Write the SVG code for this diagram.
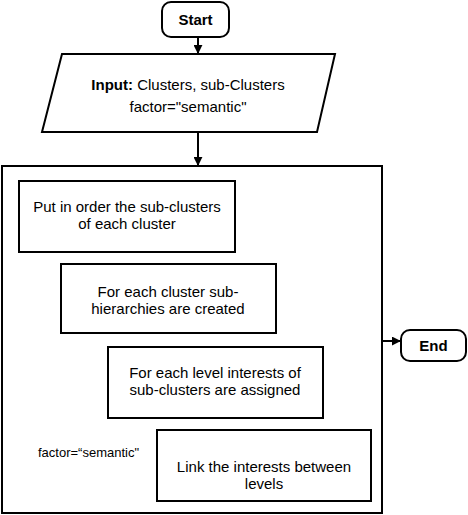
<svg xmlns="http://www.w3.org/2000/svg" width="468" height="515" viewBox="0 0 468 515">
<style>
.s{fill:#fff;stroke:#000;stroke-width:2}
.t{font-family:"Liberation Sans",Arial,sans-serif;font-size:15px;fill:#000;text-anchor:middle}
.b{font-weight:bold;font-size:15px}
.l{font-size:13px;text-anchor:start}
.c{fill:none;stroke:#000;stroke-width:2}
</style>
<defs>
<marker id="a" viewBox="0 0 10 10" refX="9" refY="5" markerWidth="4.5" markerHeight="4.5" orient="auto" markerUnits="strokeWidth">
<path d="M0,0L10,5L0,10z" fill="#000"/>
</marker>
</defs>
<rect width="468" height="515" fill="#fff"/>
<g id="connectors">
<path class="c" d="M198,37V53" marker-end="url(#a)"/>
<path class="c" d="M198,132V165" marker-end="url(#a)"/>
<path class="c" d="M30,252V269H60" marker-end="url(#a)"/>
<path class="c" d="M78,333V354H107" marker-end="url(#a)"/>
<path class="c" d="M125,418V436H156" marker-end="url(#a)"/>
<path class="c" d="M382,341H400" marker-end="url(#a)"/>
</g>
<g id="start">
<rect class="s" x="162" y="2" width="67" height="35" rx="9"/>
<text class="t b" x="195.5" y="25">Start</text>
</g>
<g id="input">
<polygon class="s" points="62,54 335,54 317,132 42,132"/>
<text class="t" x="188" y="90"><tspan font-weight="bold">Input:</tspan> Clusters, sub-Clusters</text>
<text class="t" x="188" y="112">factor="semantic"</text>
</g>
<g id="container">
<rect class="s" x="2" y="166" width="380" height="347"/>
</g>
<g id="step1">
<rect class="s" x="19" y="181" width="216" height="71"/>
<text class="t" x="127" y="212">Put in order the sub-clusters</text>
<text class="t" x="127" y="229">of each cluster</text>
</g>
<g id="step2">
<rect class="s" x="61" y="264" width="215" height="69"/>
<text class="t" x="168" y="297">For each cluster sub-</text>
<text class="t" x="168" y="314">hierarchies are created</text>
</g>
<g id="step3">
<rect class="s" x="108" y="347" width="215" height="71"/>
<text class="t" x="215" y="378">For each level interests of</text>
<text class="t" x="215" y="395">sub-clusters are assigned</text>
</g>
<g id="step4">
<rect class="s" x="157" y="430" width="214" height="71"/>
<text class="t" x="264" y="472">Link the interests between</text>
<text class="t" x="264" y="489">levels</text>
</g>
<g id="label">
<text class="t l" x="38" y="457">factor=“semantic"</text>
</g>
<g id="end">
<rect class="s" x="401" y="330" width="65" height="31" rx="9"/>
<text class="t b" x="433.5" y="351">End</text>
</g>
</svg>
